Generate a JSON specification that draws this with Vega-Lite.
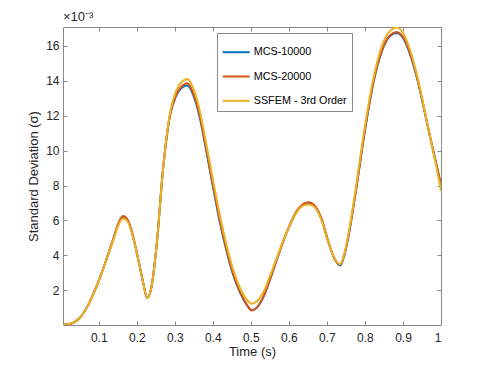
{
 "$schema": "https://vega.github.io/schema/vega-lite/v6.json",
 "width": 378, "height": 298,
 "autosize": "none",
 "padding": {"left": 63, "top": 27, "right": 46, "bottom": 41},
 "background": "white",
 "config": {"font": "Liberation Sans", "view": {"stroke": null}},
 "title": {"text": "×10⁻³", "anchor": "start", "frame": "group", "fontSize": 13, "fontWeight": "normal", "color": "#262626", "offset": 3},
 "data": {"values": [
  {"t":0.006,"MCS-10000":0.03,"MCS-20000":0.03,"SSFEM - 3rd Order":0.03},
  {"t":0.02,"MCS-10000":0.06,"MCS-20000":0.06,"SSFEM - 3rd Order":0.06},
  {"t":0.035,"MCS-10000":0.17,"MCS-20000":0.17,"SSFEM - 3rd Order":0.17},
  {"t":0.05,"MCS-10000":0.42,"MCS-20000":0.42,"SSFEM - 3rd Order":0.42},
  {"t":0.068,"MCS-10000":1.0,"MCS-20000":1.0,"SSFEM - 3rd Order":1.0},
  {"t":0.085,"MCS-10000":1.76,"MCS-20000":1.76,"SSFEM - 3rd Order":1.76},
  {"t":0.103,"MCS-10000":2.72,"MCS-20000":2.72,"SSFEM - 3rd Order":2.72},
  {"t":0.12,"MCS-10000":3.76,"MCS-20000":3.76,"SSFEM - 3rd Order":3.76},
  {"t":0.138,"MCS-10000":4.91,"MCS-20000":4.93,"SSFEM - 3rd Order":4.85},
  {"t":0.151,"MCS-10000":5.78,"MCS-20000":5.8,"SSFEM - 3rd Order":5.7},
  {"t":0.164,"MCS-10000":6.22,"MCS-20000":6.25,"SSFEM - 3rd Order":6.12},
  {"t":0.177,"MCS-10000":5.98,"MCS-20000":6.0,"SSFEM - 3rd Order":5.9},
  {"t":0.19,"MCS-10000":5.1,"MCS-20000":5.12,"SSFEM - 3rd Order":5.05},
  {"t":0.204,"MCS-10000":3.76,"MCS-20000":3.76,"SSFEM - 3rd Order":3.76},
  {"t":0.217,"MCS-10000":2.43,"MCS-20000":2.43,"SSFEM - 3rd Order":2.43},
  {"t":0.227,"MCS-10000":1.57,"MCS-20000":1.57,"SSFEM - 3rd Order":1.57},
  {"t":0.239,"MCS-10000":2.24,"MCS-20000":2.24,"SSFEM - 3rd Order":2.24},
  {"t":0.252,"MCS-10000":4.53,"MCS-20000":4.53,"SSFEM - 3rd Order":4.53},
  {"t":0.269,"MCS-10000":8.92,"MCS-20000":8.92,"SSFEM - 3rd Order":8.92},
  {"t":0.287,"MCS-10000":11.98,"MCS-20000":11.98,"SSFEM - 3rd Order":12.1},
  {"t":0.304,"MCS-10000":13.15,"MCS-20000":13.2,"SSFEM - 3rd Order":13.45},
  {"t":0.322,"MCS-10000":13.65,"MCS-20000":13.75,"SSFEM - 3rd Order":14.0},
  {"t":0.333,"MCS-10000":13.72,"MCS-20000":13.85,"SSFEM - 3rd Order":14.1},
  {"t":0.348,"MCS-10000":13.2,"MCS-20000":13.3,"SSFEM - 3rd Order":13.6},
  {"t":0.366,"MCS-10000":11.85,"MCS-20000":11.98,"SSFEM - 3rd Order":12.25},
  {"t":0.383,"MCS-10000":9.95,"MCS-20000":10.07,"SSFEM - 3rd Order":10.35},
  {"t":0.401,"MCS-10000":7.85,"MCS-20000":7.97,"SSFEM - 3rd Order":8.25},
  {"t":0.418,"MCS-10000":5.95,"MCS-20000":6.06,"SSFEM - 3rd Order":6.35},
  {"t":0.436,"MCS-10000":4.25,"MCS-20000":4.34,"SSFEM - 3rd Order":4.6},
  {"t":0.453,"MCS-10000":2.92,"MCS-20000":3.0,"SSFEM - 3rd Order":3.22},
  {"t":0.471,"MCS-10000":1.9,"MCS-20000":1.95,"SSFEM - 3rd Order":2.15},
  {"t":0.489,"MCS-10000":1.18,"MCS-20000":1.2,"SSFEM - 3rd Order":1.48},
  {"t":0.502,"MCS-10000":0.86,"MCS-20000":0.86,"SSFEM - 3rd Order":1.24},
  {"t":0.515,"MCS-10000":1.0,"MCS-20000":1.0,"SSFEM - 3rd Order":1.36},
  {"t":0.532,"MCS-10000":1.57,"MCS-20000":1.6,"SSFEM - 3rd Order":1.86},
  {"t":0.55,"MCS-10000":2.6,"MCS-20000":2.62,"SSFEM - 3rd Order":2.81},
  {"t":0.568,"MCS-10000":3.74,"MCS-20000":3.76,"SSFEM - 3rd Order":3.85},
  {"t":0.585,"MCS-10000":4.8,"MCS-20000":4.81,"SSFEM - 3rd Order":4.83},
  {"t":0.603,"MCS-10000":5.76,"MCS-20000":5.77,"SSFEM - 3rd Order":5.74},
  {"t":0.62,"MCS-10000":6.5,"MCS-20000":6.53,"SSFEM - 3rd Order":6.45},
  {"t":0.638,"MCS-10000":6.9,"MCS-20000":6.95,"SSFEM - 3rd Order":6.85},
  {"t":0.652,"MCS-10000":7.0,"MCS-20000":7.05,"SSFEM - 3rd Order":6.92},
  {"t":0.668,"MCS-10000":6.8,"MCS-20000":6.85,"SSFEM - 3rd Order":6.75},
  {"t":0.686,"MCS-10000":6.06,"MCS-20000":6.1,"SSFEM - 3rd Order":6.0},
  {"t":0.703,"MCS-10000":4.81,"MCS-20000":4.85,"SSFEM - 3rd Order":4.8},
  {"t":0.721,"MCS-10000":3.76,"MCS-20000":3.78,"SSFEM - 3rd Order":3.8},
  {"t":0.735,"MCS-10000":3.42,"MCS-20000":3.48,"SSFEM - 3rd Order":3.5},
  {"t":0.747,"MCS-10000":4.1,"MCS-20000":4.15,"SSFEM - 3rd Order":4.2},
  {"t":0.756,"MCS-10000":5.0,"MCS-20000":5.05,"SSFEM - 3rd Order":5.15},
  {"t":0.778,"MCS-10000":7.95,"MCS-20000":7.97,"SSFEM - 3rd Order":8.15},
  {"t":0.8,"MCS-10000":11.15,"MCS-20000":11.2,"SSFEM - 3rd Order":11.4},
  {"t":0.822,"MCS-10000":13.85,"MCS-20000":13.9,"SSFEM - 3rd Order":14.1},
  {"t":0.844,"MCS-10000":15.65,"MCS-20000":15.7,"SSFEM - 3rd Order":15.95},
  {"t":0.866,"MCS-10000":16.55,"MCS-20000":16.6,"SSFEM - 3rd Order":16.85},
  {"t":0.883,"MCS-10000":16.72,"MCS-20000":16.79,"SSFEM - 3rd Order":17.04},
  {"t":0.901,"MCS-10000":16.42,"MCS-20000":16.47,"SSFEM - 3rd Order":16.7},
  {"t":0.918,"MCS-10000":15.55,"MCS-20000":15.61,"SSFEM - 3rd Order":15.8},
  {"t":0.936,"MCS-10000":14.22,"MCS-20000":14.27,"SSFEM - 3rd Order":14.4},
  {"t":0.953,"MCS-10000":12.62,"MCS-20000":12.65,"SSFEM - 3rd Order":12.72},
  {"t":0.971,"MCS-10000":10.8,"MCS-20000":10.83,"SSFEM - 3rd Order":10.8},
  {"t":0.989,"MCS-10000":9.1,"MCS-20000":9.11,"SSFEM - 3rd Order":8.95},
  {"t":1.0,"MCS-10000":8.0,"MCS-20000":8.06,"SSFEM - 3rd Order":7.7}
 ]},
 "transform": [{"fold": ["MCS-10000", "MCS-20000", "SSFEM - 3rd Order"], "as": ["series", "v"]}],
 "layer": [
  {
   "mark": {"type": "line", "strokeWidth": 2, "interpolate": "monotone", "clip": true},
   "encoding": {
    "x": {"field": "t", "type": "quantitative",
          "scale": {"domain": [0.006, 1], "nice": false, "zero": false},
          "axis": {"orient": "bottom", "values": [0.1,0.2,0.3,0.4,0.5,0.6,0.7,0.8,0.9,1], "format": ".1~f",
                   "title": "Time (s)", "grid": false, "tickSize": -4, "domainColor": "#888", "tickColor": "#888",
                   "labelColor": "#262626", "labelFontSize": 12, "labelPadding": 11,
                   "titleFontSize": 13, "titleFontWeight": "normal", "titleColor": "#262626", "titlePadding": 2}},
    "y": {"field": "v", "type": "quantitative",
          "scale": {"domain": [0.02, 17.07], "nice": false, "zero": false},
          "axis": {"orient": "left", "values": [2,4,6,8,10,12,14,16],
                   "title": "Standard Deviation (σ)", "grid": false, "tickSize": -4, "domainColor": "#888", "tickColor": "#888",
                   "labelColor": "#262626", "labelFontSize": 12, "labelPadding": 8,
                   "titleFontSize": 13, "titleFontWeight": "normal", "titleColor": "#262626", "titlePadding": 5}},
    "color": {"field": "series", "type": "nominal",
              "scale": {"domain": ["MCS-10000", "MCS-20000", "SSFEM - 3rd Order"], "range": ["#0072BD", "#D95319", "#EDB120"]},
              "legend": {"orient": "none", "legendX": 154, "legendY": 6, "title": null,
                         "symbolType": "stroke", "symbolSize": 729, "symbolStrokeWidth": 2,
                         "labelFontSize": 10.8, "labelColor": "#000", "labelOffset": 3,
                         "rowPadding": 4.3, "padding": 4.7, "strokeColor": "#888", "fillColor": "white"}}
   }
  },
  {
   "mark": {"type": "line", "opacity": 0},
   "encoding": {
    "x": {"field": "t", "type": "quantitative",
          "axis": {"orient": "top", "values": [0.1,0.2,0.3,0.4,0.5,0.6,0.7,0.8,0.9,1], "labels": false, "title": null,
                   "grid": false, "tickSize": -4, "domainColor": "#888", "tickColor": "#888"}},
    "y": {"field": "v", "type": "quantitative",
          "axis": {"orient": "right", "values": [2,4,6,8,10,12,14,16], "labels": false, "title": null,
                   "grid": false, "tickSize": -4, "domainColor": "#888", "tickColor": "#888"}}
   }
  }
 ],
 "resolve": {"axis": {"x": "independent", "y": "independent"}}
}
